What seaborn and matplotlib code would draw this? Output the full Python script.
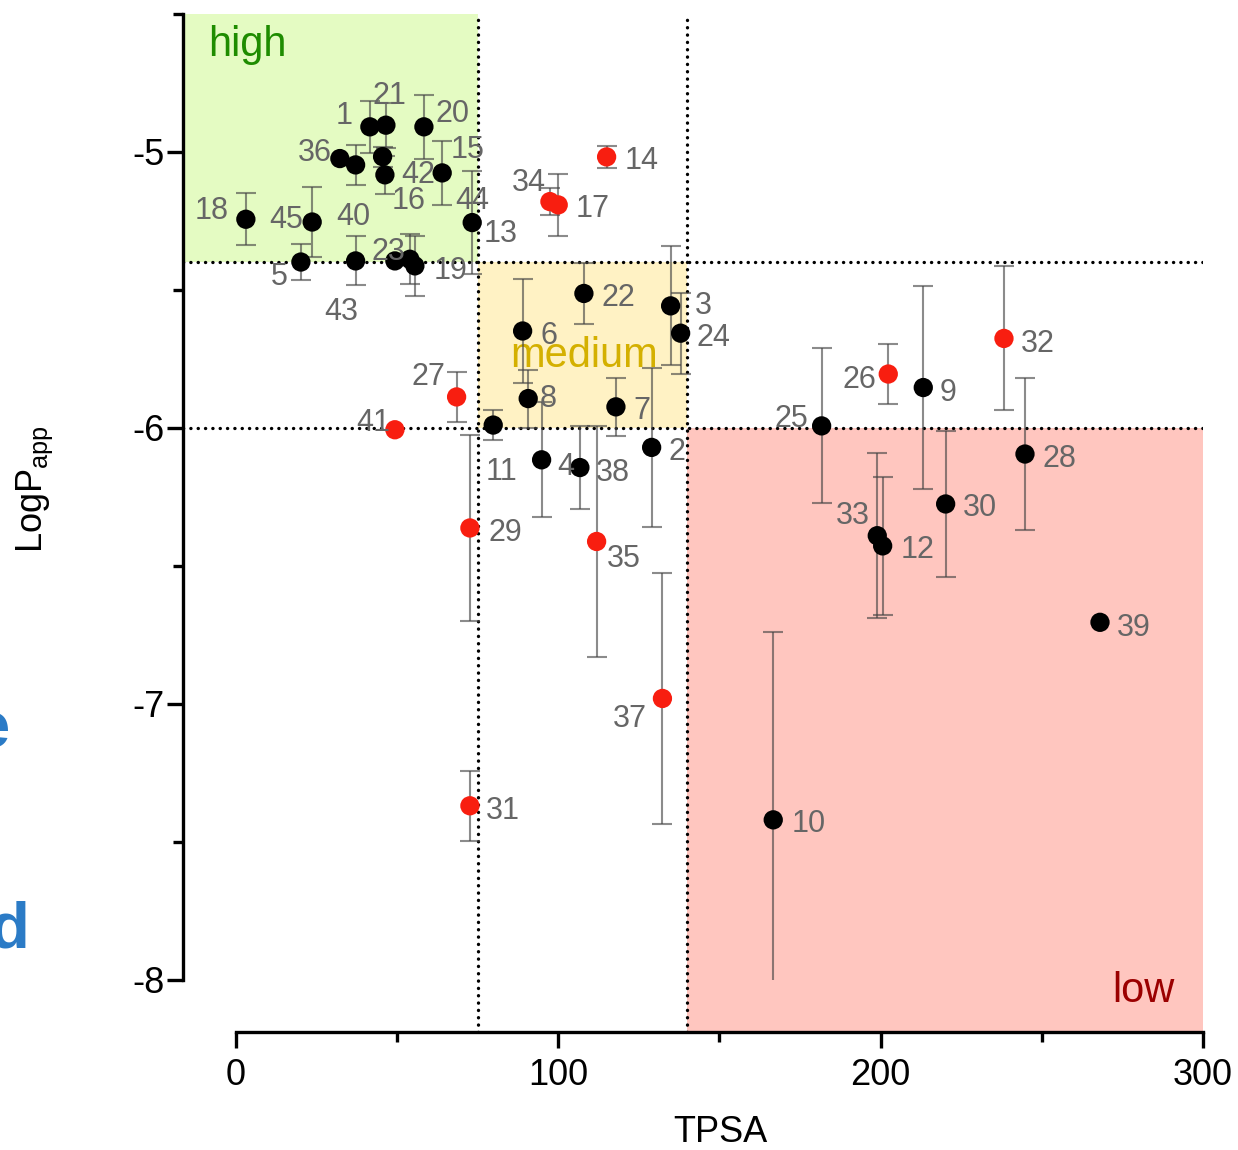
import matplotlib
matplotlib.use("Agg")
import matplotlib.pyplot as plt
import seaborn as sns
import pandas as pd
import numpy as np
from matplotlib.ticker import MultipleLocator
from matplotlib.patches import Rectangle

# ---------------- data ----------------
compound = [str(i) for i in range(1, 46)]
tpsa = [41.57, 128.97, 134.86, 94.84, 20.17, 88.95, 117.89, 90.68, 213.23, 166.69,
        79.83, 200.63, 73.31, 115.0, 64.0, 46.23, 99.99, 3.10, 55.53, 58.33,
        46.54, 107.96, 49.33, 137.96, 181.7, 202.37, 68.47, 244.78, 72.6, 220.17,
        72.6, 238.26, 198.96, 97.42, 111.9, 32.26, 132.32, 106.72, 268.05, 37.14,
        49.33, 45.51, 37.14, 53.98, 23.67]
logp = [-4.909, -6.071, -5.558, -6.116, -5.399, -5.649, -5.924, -5.894, -5.854, -7.421,
        -5.990, -6.428, -5.256, -5.018, -5.076, -5.083, -5.192, -5.244, -5.413, -4.909,
        -4.903, -5.513, -5.395, -5.657, -5.993, -5.805, -5.888, -6.095, -6.363, -6.276,
        -7.370, -5.676, -6.391, -5.180, -6.412, -5.024, -6.981, -6.144, -6.705, -5.047,
        -6.007, -5.017, -5.395, -5.389, -5.254]
logp_err = [0.094, 0.288, 0.216, 0.209, 0.065, 0.188, 0.105, 0.105, 0.368, 0.68,
            0.054, 0.25, 0.187, 0.04, 0.115, 0.068, 0.112, 0.094, 0.109, 0.116,
            0.082, 0.112, 0.0, 0.147, 0.281, 0.108, 0.091, 0.274, 0.337, 0.265,
            0.126, 0.261, 0.298, 0.048, 0.42, 0.0, 0.454, 0.149, 0.0, 0.072,
            0.0, 0.036, 0.089, 0.09, 0.127]
group = ["b", "b", "b", "b", "b", "b", "b", "b", "b", "b",
         "b", "b", "b", "r", "b", "b", "r", "b", "b", "b",
         "b", "b", "b", "b", "b", "r", "r", "b", "r", "b",
         "r", "r", "b", "r", "r", "b", "r", "b", "b", "b",
         "r", "b", "b", "b", "b"]

# label offsets (pixels, x right / y down) -- layout only
label_dx = [-26, 25, 33, 24, -22, 26, 26, 20, 25, 35,
            8, 35, 28, 35, 25, 24, 34, -34, 36, 29,
            4, 34, -6, 33, -30, -29, -28, 34, 35, 34,
            33, 34, -24, -21, 27, -25, -33, 33, 34, -2,
            -22, 36, -14, 62, -26]
label_dy = [-14, 1, -3, 4, 11, 2, 1, -3, 2, 1,
            43, 1, 8, 1, -26, 23, 1, -12, 2, -16,
            -33, 1, -12, 1, -10, 2, -23, 1, 2, 1,
            2, 2, -23, -22, 14, -9, 17, 2, 2, 49,
            -10, 15, 48, -62, -6]

df = pd.DataFrame({"compound": compound, "TPSA": tpsa, "LogPapp": logp,
                   "err": logp_err, "group": group})

RED = "#f81e10"

sns.set_theme(style="ticks")
plt.rcParams["font.family"] = ["Liberation Sans", "DejaVu Sans"]
plt.rcParams["axes.unicode_minus"] = False

fig = plt.figure(figsize=(12.38, 11.5), dpi=100)
ax = fig.add_axes([183 / 1238, 1 - 1032 / 1150, 1020 / 1238, 1018 / 1150])

XMIN, XMAX = -16.4, 300
YMIN, YMAX = -8.19, -4.5
ax.set_xlim(XMIN, XMAX)
ax.set_ylim(YMIN, YMAX)

# shaded regions
ax.add_patch(Rectangle((XMIN, -5.4), 75 - XMIN, YMAX + 5.4, facecolor="#e4fbc2",
                       edgecolor="none", zorder=0))
ax.add_patch(Rectangle((75, -6.0), 65, 0.6, facecolor="#fff2c4",
                       edgecolor="none", zorder=0))
ax.add_patch(Rectangle((140, YMIN), 160, -6.0 - YMIN, facecolor="#ffc6bf",
                       edgecolor="none", zorder=0))

# dotted threshold lines
dot = dict(color="black", lw=2.4, linestyle=(0, (0.05, 2.15)),
           dash_capstyle="round", zorder=1)
ax.plot([XMIN, 300], [-5.4, -5.4], **dot)
ax.plot([XMIN, 300], [-6.0, -6.0], **dot)
ax.plot([75, 75], [YMIN, YMAX], **dot)
ax.plot([140, 140], [YMIN, YMAX], **dot)

# region names
ax.text(-8.6, -4.652, "high", color="#1e8c00", fontsize=30, ha="left",
        va="baseline", zorder=1.5)
ax.text(85.0, -5.779, "medium", color="#d4b000", fontsize=30, ha="left",
        va="baseline", zorder=1.5)
ax.text(291.3, -8.081, "low", color="#9b0000", fontsize=30, ha="right",
        va="baseline", zorder=1.5)

# error bars
m = df["err"] > 0
eb = ax.errorbar(df.loc[m, "TPSA"], df.loc[m, "LogPapp"], yerr=df.loc[m, "err"],
                 fmt="none", ecolor="#444444", alpha=0.62, elinewidth=1.5,
                 capsize=7.2, capthick=1.5, zorder=2)
clip = Rectangle((XMIN, -8.0), XMAX - XMIN, YMAX + 8.0, transform=ax.transData)
for art in list(eb.lines[1]) + list(eb.lines[2]):
    art.set_clip_path(clip)

# points
sns.scatterplot(data=df, x="TPSA", y="LogPapp", hue="group",
                palette={"b": "black", "r": RED}, s=193, linewidth=0,
                legend=False, zorder=3, ax=ax)

# compound labels
for c, xv, yv, dx, dy in zip(compound, tpsa, logp, label_dx, label_dy):
    ax.annotate(c, (xv, yv), xytext=(dx, -dy), textcoords="offset pixels",
                ha="center", va="center_baseline", fontsize=22,
                color="#666666", zorder=4)

# axes styling
for s in ["top", "right"]:
    ax.spines[s].set_visible(False)
ax.spines["left"].set_bounds(-8, -4.5)
ax.spines["bottom"].set_bounds(0, 300)
for s in ["left", "bottom"]:
    ax.spines[s].set_linewidth(2.4)
    ax.spines[s].set_color("black")
    ax.spines[s].set_zorder(5)

ax.xaxis.set_major_locator(MultipleLocator(100))
ax.xaxis.set_minor_locator(MultipleLocator(50))
ax.yaxis.set_major_locator(MultipleLocator(1))
ax.yaxis.set_minor_locator(MultipleLocator(0.5))
ax.set_xticks([0, 100, 200, 300])
ax.set_yticks([-8, -7, -6, -5])
ax.set_xticklabels(["0", "100", "200", "300"])
ax.set_yticklabels(["-8", "-7", "-6", "-5"])
ax.tick_params(which="major", length=11.5, width=2.4, color="black",
               labelsize=26, labelcolor="black", direction="out")
ax.tick_params(which="minor", length=7.2, width=2.4, color="black", direction="out")
ax.tick_params(axis="y", which="major", pad=2)
ax.tick_params(axis="x", which="major", pad=7)
ax.grid(False)
ax.set_facecolor("white")

ax.set_xlabel("TPSA", fontsize=26, color="black")
ax.xaxis.set_label_coords((720 - 183) / 1020, (1032 - 1132) / 1018)
ax.xaxis.label.set_verticalalignment("center")
ax.set_ylabel("LogP$_\\mathregular{app}$", fontsize=26, color="black")
ax.yaxis.set_label_coords((35 - 183) / 1020, (1032 - 489) / 1018)
ax.yaxis.label.set_verticalalignment("center")
ax.yaxis.label.set_rotation_mode("default")

# cut-off letters of a neighbouring panel at the left edge
fig.text(10 / 1238, 1 - 748 / 1150, "e", color="#2b7bc6", fontsize=47,
         fontweight="bold", ha="right", va="baseline")
fig.text(29 / 1238, 1 - 948 / 1150, "d", color="#2b7bc6", fontsize=47,
         fontweight="bold", ha="right", va="baseline")

fig.savefig("out.png", dpi=100)
